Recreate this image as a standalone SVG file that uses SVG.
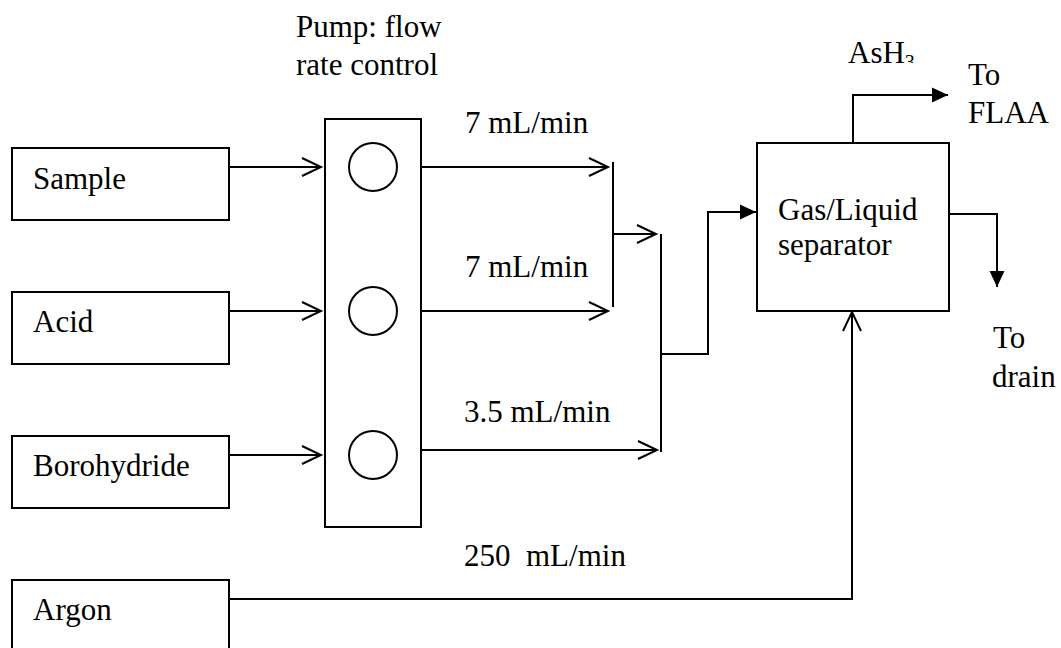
<svg xmlns="http://www.w3.org/2000/svg" width="1061" height="648" viewBox="0 0 1061 648">
<style>
  .box { fill: #fff; stroke: #000; stroke-width: 2; }
  .pumpc { fill: none; stroke: #000; stroke-width: 2; }
  .t { font-family: "Liberation Serif", "Times New Roman", serif; font-size: 31px; fill: #000; }
  .ln { fill: none; stroke: #000; stroke-width: 2; }
  .open { marker-end: url(#openArrow); }
  .solid { marker-end: url(#solidArrow); }
</style>
<defs>
  <marker id="openArrow" markerUnits="userSpaceOnUse" viewBox="-22 -12 26 24" markerWidth="26" markerHeight="24" refX="0" refY="0" orient="auto">
    <path d="M -19 -9 L 0 0 L -19 9" fill="none" stroke="#000" stroke-width="2"/>
  </marker>
  <marker id="solidArrow" markerUnits="userSpaceOnUse" viewBox="-18 -10 20 20" markerWidth="20" markerHeight="20" refX="0" refY="0" orient="auto">
    <path d="M -16 -7.5 L 0 0 L -16 7.5 Z" fill="#000"/>
  </marker>
  <clipPath id="ashClip"><rect x="840" y="30" width="80" height="33"/></clipPath>
</defs>

<g id="connectors">
  <path class="ln open" d="M229 167 H321"/>
  <path class="ln open" d="M229 311 H321"/>
  <path class="ln open" d="M229 455 H321"/>
  <path class="ln open" d="M421 167 H608"/>
  <path class="ln open" d="M421 311 H608"/>
  <path class="ln open" d="M421 450 H657"/>
  <path class="ln" d="M613 162 V307"/>
  <path class="ln open" d="M613 234 H656"/>
  <path class="ln" d="M661 234 V452"/>
  <path class="ln solid" d="M661 354 H708 V212 H756"/>
  <path class="ln open" d="M229 599 H852 V312"/>
  <path class="ln solid" d="M853 143 V95 H948"/>
  <path class="ln solid" d="M949 214 H997 V287"/>
</g>

<g id="sample">
  <rect class="box" x="12" y="148" width="217" height="72"/>
  <text class="t" x="33" y="189">Sample</text>
</g>
<g id="acid">
  <rect class="box" x="12" y="292" width="217" height="72"/>
  <text class="t" x="33" y="332">Acid</text>
</g>
<g id="borohydride">
  <rect class="box" x="12" y="436" width="217" height="72"/>
  <text class="t" x="33" y="476">Borohydride</text>
</g>
<g id="argon">
  <rect class="box" x="12" y="580" width="217" height="74"/>
  <text class="t" x="33" y="620">Argon</text>
</g>

<g id="pump">
  <text class="t" x="296" y="37">Pump: flow</text>
  <text class="t" x="296" y="75">rate control</text>
  <rect class="box" x="325" y="119" width="96" height="408"/>
  <circle class="pumpc" cx="373" cy="167" r="24"/>
  <circle class="pumpc" cx="373" cy="311" r="24"/>
  <circle class="pumpc" cx="373" cy="455" r="24"/>
</g>

<g id="flow-labels">
  <text class="t" x="465" y="133">7 mL/min</text>
  <text class="t" x="465" y="277">7 mL/min</text>
  <text class="t" x="464" y="422">3.5 mL/min</text>
  <text class="t" x="464" y="566" xml:space="preserve">250  mL/min</text>
</g>

<g id="separator">
  <rect class="box" x="757" y="143" width="192" height="168"/>
  <text class="t" x="778" y="220">Gas/Liquid</text>
  <text class="t" x="778" y="255">separator</text>
</g>

<g id="ash3">
  <text class="t" x="848" y="63" clip-path="url(#ashClip)">AsH<tspan font-size="20" dy="6">3</tspan></text>
</g>
<g id="to-flaa">
  <text class="t" x="968" y="85">To</text>
  <text class="t" x="968" y="123">FLAA</text>
</g>
<g id="to-drain">
  <text class="t" x="993" y="348">To</text>
  <text class="t" x="992" y="387">drain</text>
</g>
</svg>
